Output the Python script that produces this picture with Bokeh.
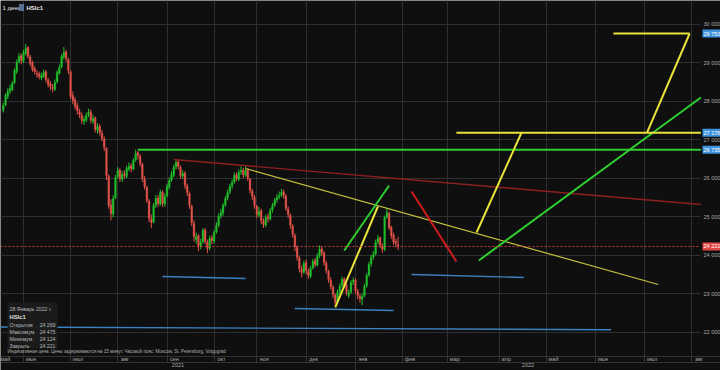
import pandas as pd
from bokeh.plotting import figure
from bokeh.models import (Range1d, LinearAxis, FixedTicker, CustomJSTickFormatter, Grid,
                          Label, BoxAnnotation, ColumnDataSource)
from bokeh.embed import file_html
from bokeh.resources import INLINE

# ---------------- calendar (trading days, future = weekdays) ----------------
hk_holidays = ["2021-05-19", "2021-06-14", "2021-07-01", "2021-09-22",
               "2021-10-01", "2021-10-14", "2021-12-27"]
hist_days = [d.strftime("%Y-%m-%d") for d in pd.bdate_range("2021-05-18", "2022-01-28")
             if d.strftime("%Y-%m-%d") not in hk_holidays]
future_days = [d.strftime("%Y-%m-%d") for d in pd.bdate_range("2022-01-31", "2022-08-31")]
axis_days = ["2021-05-14", "2021-05-17"] + hist_days + future_days
pos = {d: i for i, d in enumerate(axis_days)}

# ---------------- OHLC (HSIc1, daily) ----------------
opens = [27760, 27900, 28120, 28260, 28300, 28480, 28770, 29020, 29180,
         29030, 29240, 29390, 29140, 28990, 28840, 28720, 28700, 28600, 28640,
         28760, 28540, 28450, 28360, 28300, 28500, 28720, 28890, 29140, 29280,
         29080, 28760, 28140, 28030, 27880, 27720, 27630, 27470, 27500, 27640,
         27720, 27470, 27560, 27240, 27350, 27160, 27010, 26770, 26040, 25300,
         25060, 25490, 26040, 26210, 25970, 26110, 26040, 26230, 26320, 26230,
         26470, 26660, 26570, 26360, 25970, 25760, 25400, 24930, 24860, 25300,
         25480, 25320, 25640, 25320, 25540, 25760, 25950, 26070, 26290, 26420,
         26280, 26050, 26130, 25790, 25600, 25270, 24820, 24400, 24500, 24230,
         24340, 24650, 24330, 24180, 24440, 24360, 24600, 24780, 25020, 25090,
         25300, 25480, 25640, 25800, 25900, 26080, 25970, 26160, 26210, 26070,
         26210, 25970, 25660, 25500, 25270, 25030, 25150, 24880, 24780, 24990,
         24930, 25170, 25300, 25430, 25510, 25560, 25640, 25530, 25190, 25030,
         24750, 24510, 24200, 23920, 23630, 23560, 23800, 23580, 23450, 23670,
         23850, 23740, 23980, 24160, 24050, 23790, 23580, 23350, 23160, 22960,
         22780, 23040, 23200, 23380, 23220, 22950, 23040, 23300, 23350, 23060,
         22930, 22850, 22940, 23200, 23480, 23770, 23950, 24030, 24340, 24450,
         24230, 24150, 24990, 25080, 24720, 24520, 24350, 24269]
highs = [27950, 28200, 28330, 28420, 28520, 28850, 29080, 29250, 29230,
         29330, 29480, 29420, 29200, 29050, 28900, 28800, 28760, 28740, 28820,
         28800, 28600, 28520, 28440, 28560, 28800, 28950, 29220, 29400, 29330,
         29120, 28800, 28250, 28100, 27950, 27800, 27700, 27600, 27700, 27800,
         27780, 27650, 27600, 27420, 27400, 27250, 27080, 26800, 26100, 25450,
         25550, 26080, 26280, 26250, 26180, 26200, 26320, 26400, 26380, 26520,
         26735, 26700, 26620, 26400, 26050, 25800, 25450, 25050, 25350, 25560,
         25550, 25700, 25680, 25600, 25850, 26020, 26180, 26350, 26500, 26470,
         26330, 26200, 26180, 25850, 25650, 25300, 24900, 24580, 24550, 24420,
         24700, 24700, 24400, 24500, 24520, 24650, 24850, 25080, 25200, 25350,
         25540, 25700, 25850, 25960, 26140, 26150, 26220, 26300, 26260, 26320,
         26250, 26000, 25720, 25560, 25300, 25250, 25200, 24950, 25050, 25080,
         25220, 25350, 25480, 25580, 25650, 25720, 25700, 25580, 25260, 25080,
         24800, 24560, 24250, 23980, 23720, 23850, 23880, 23650, 23720, 23900,
         23920, 24050, 24250, 24220, 24100, 23850, 23620, 23420, 23220, 23000,
         23100, 23260, 23440, 23420, 23280, 23100, 23350, 23420, 23400, 23120,
         22990, 23000, 23250, 23530, 23820, 24000, 24100, 24400, 24520, 24480,
         24300, 25020, 25200, 25130, 24760, 24580, 24420, 24475]
lows = [27700, 27860, 28050, 28180, 28250, 28440, 28700, 28980, 28950,
        28990, 29180, 29100, 28900, 28760, 28690, 28600, 28560, 28540, 28600,
        28480, 28350, 28280, 28220, 28260, 28460, 28680, 28850, 29080, 29020,
        28700, 28050, 27920, 27780, 27650, 27560, 27400, 27380, 27450, 27580,
        27420, 27400, 27180, 27150, 27100, 26950, 26700, 25950, 25200, 24900,
        24980, 25450, 25980, 25900, 25900, 25980, 26000, 26180, 26150, 26200,
        26420, 26480, 26300, 25900, 25700, 25350, 24850, 24700, 24820, 25220,
        25250, 25280, 25250, 25250, 25500, 25700, 25900, 26020, 26220, 26220,
        25980, 25980, 25720, 25530, 25200, 24750, 24350, 24300, 24100, 24150,
        24300, 24280, 24050, 24120, 24280, 24300, 24550, 24720, 24950, 25020,
        25250, 25420, 25580, 25720, 25850, 25920, 25920, 26080, 26000, 26030,
        25920, 25600, 25430, 25200, 24960, 24980, 24800, 24700, 24720, 24850,
        24900, 25100, 25250, 25360, 25450, 25500, 25460, 25150, 24960, 24680,
        24450, 24100, 23850, 23550, 23420, 23500, 23500, 23380, 23400, 23620,
        23680, 23700, 23920, 23980, 23720, 23520, 23280, 23100, 22880, 22670,
        22720, 22980, 23150, 23150, 22950, 22880, 22990, 23220, 23000, 22850,
        22760, 22700, 22900, 23150, 23430, 23700, 23880, 23990, 24280, 24180,
        24050, 24100, 24940, 24650, 24420, 24260, 24200, 24124]
closes = [27883, 28143, 28247, 28325, 28455, 28792, 29000, 29156, 29052,
          29260, 29363, 29156, 28974, 28818, 28766, 28688, 28636, 28662, 28740,
          28558, 28429, 28377, 28325, 28480, 28740, 28870, 29156, 29260, 29104,
          28792, 28117, 28013, 27857, 27753, 27650, 27494, 27520, 27624, 27701,
          27494, 27546, 27260, 27338, 27182, 27026, 26793, 26065, 25286, 25078,
          25468, 26013, 26195, 25988, 26091, 26065, 26247, 26299, 26247, 26455,
          26637, 26585, 26377, 25988, 25780, 25416, 24949, 24845, 25286, 25468,
          25338, 25624, 25338, 25520, 25780, 25935, 26091, 26273, 26403, 26299,
          26065, 26117, 25806, 25624, 25286, 24845, 24481, 24481, 24247, 24325,
          24637, 24351, 24169, 24429, 24377, 24585, 24767, 25000, 25104, 25286,
          25468, 25624, 25780, 25884, 26065, 25988, 26143, 26195, 26091, 26195,
          25988, 25676, 25520, 25286, 25052, 25130, 24897, 24793, 24975, 24949,
          25156, 25286, 25416, 25494, 25546, 25624, 25546, 25208, 25052, 24767,
          24533, 24221, 23936, 23650, 23546, 23780, 23598, 23468, 23650, 23832,
          23754, 23962, 24143, 24065, 23806, 23598, 23364, 23182, 22975, 22767,
          23027, 23182, 23364, 23234, 23027, 23027, 23286, 23338, 23079, 22949,
          22871, 22923, 23182, 23468, 23754, 23936, 24013, 24325, 24429, 24247,
          24143, 24975, 25100, 24700, 24500, 24330, 24300, 24221]

# ---------------- drawn trend lines (date, price) ----------------
yellow_lines = [
    (["2022-06-13", "2022-07-29"], [29753, 29753]),
    (["2022-07-04", "2022-07-29"], [27176, 29753]),
    (["2022-03-07", "2022-08-05"], [27176, 27176]),
    (["2022-03-18", "2022-04-15"], [24585, 27176]),
    (["2021-12-20", "2022-01-17"], [22637, 25260]),
]
green_lines = [
    (["2021-08-13", "2022-08-05"], [26735, 26735]),
    (["2022-03-21", "2022-08-05"], [23858, 28091]),
    (["2021-12-24", "2022-01-24"], [24117, 25806]),
]
darkred_line = (["2021-09-06", "2022-08-05"], [26480, 25312])
olive_line = (["2021-10-25", "2022-07-11"], [26247, 23234])
red_line = (["2022-02-07", "2022-03-07"], [25650, 23832])
blue_lines = [
    (["2021-08-30", "2021-10-25"], [23442, 23390]),
    (["2021-11-24", "2022-01-26"], [22611, 22559]),
    (["2022-02-07", "2022-04-18"], [23494, 23416]),
    (["2021-05-14", "2022-06-10"], [22130, 22060]),
]
price_tags = [29753, 27176, 26735]
price_ticks = [22000, 23000, 24000, 25000, 26000, 27000, 28000, 29000, 30000]
month_names = ["янв", "фев", "мар", "апр", "май", "июн", "июл", "авг", "сен", "окт", "ноя", "дек"]

# ---------------- layout constants (frame = whole canvas) ----------------
W, H = 720, 370
PX_DAY = 2.243           # pixels per trading day
PX_PRICE = 25.974        # price per pixel
PLOT_R = 700             # right end of the chart area (px)
PLOT_B = 355.5           # bottom end of the chart area (px)
YEAR_ROW = 362           # line between month row and year row (px)
x0 = pos["2021-05-18"] - 1.25
x1 = x0 + W / PX_DAY
y1 = 30000 + 23.5 * PX_PRICE
y0 = y1 - H * PX_PRICE

def px2x(px):
    return x0 + px / PX_DAY

def py2y(py):
    return y1 - py * PX_PRICE

BG = "#0f0f0f"
GRID = "#2f2f2f"
SEP = "#333333"
FONT = "Liberation Sans"
TXT = "#a8a8a8"

p = figure(width=W, height=H, output_backend="svg", toolbar_location=None,
           x_range=Range1d(x0, x1), y_range=Range1d(y0, y1),
           x_axis_location=None, y_axis_location=None,
           min_border_left=0, min_border_right=0, min_border_top=0, min_border_bottom=0,
           background_fill_color=BG, border_fill_color=BG)
p.outline_line_color = None
p.center = []

# month starts (first trading day of each month)
month_start = []
month_lab = []
seen = set()
for d in axis_days:
    ym = d[:7]
    if ym not in seen:
        seen.add(ym)
        if d >= "2021-06-01":
            month_start.append(pos[d])
            month_lab.append(month_names[int(d[5:7]) - 1])
jan22 = pos["2022-01-03"]

p.add_layout(Grid(dimension=0, ticker=FixedTicker(ticks=month_start), grid_line_color=GRID,
                  cross_bounds=(py2y(PLOT_B), y1)))
p.add_layout(Grid(dimension=1, ticker=FixedTicker(ticks=price_ticks), grid_line_color=GRID,
                  cross_bounds=(x0, px2x(PLOT_R))))

# ---------------- candles ----------------
xs = [pos[d] for d in hist_days]
cols = ["#22c02b" if c >= o else "#e3534a" for o, c in zip(opens, closes)]
src = ColumnDataSource(dict(x=xs, h=highs, l=lows,
                            top=[max(o, c) for o, c in zip(opens, closes)],
                            bot=[min(o, c) for o, c in zip(opens, closes)], col=cols))
p.segment(x0="x", y0="l", x1="x", y1="h", line_color="col", line_width=1, source=src)
p.vbar(x="x", width=0.72, top="top", bottom="bot", fill_color="col", line_color="col",
       line_width=0.4, source=src)

# ---------------- trend lines ----------------
def draw(seg, color, width):
    ds, ps = seg
    p.line([pos[d] for d in ds], ps, line_color=color, line_width=width)

for seg in blue_lines:
    draw(seg, "#3c82c0", 1.4)
draw(darkred_line, "#8e1f1f", 1.4)
draw(olive_line, "#c4bf3c", 1.2)
draw(red_line, "#d01c1c", 2)
for seg in green_lines:
    draw(seg, "#2fcf2f", 2)
for seg in yellow_lines:
    draw(seg, "#e9e33c", 2)

p.line([x0, px2x(PLOT_R)], [closes[-1], closes[-1]], line_color="#d23c3c",
       line_dash="2 2", line_width=1)

# ---------------- axes (fixed inside the canvas) ----------------
blank = CustomJSTickFormatter(code="return '';")

fmt_price = CustomJSTickFormatter(code="""
const s = Math.round(tick).toString();
return s.slice(0, s.length - 3) + ' ' + s.slice(s.length - 3);
""")
yax = LinearAxis(ticker=FixedTicker(ticks=price_ticks), formatter=fmt_price,
                 fixed_location=px2x(PLOT_R),
                 axis_line_color=None, major_tick_line_color=None, minor_tick_line_color=None,
                 major_tick_out=0, major_tick_in=0, major_label_standoff=3,
                 major_label_text_font_size="5.5px", major_label_text_color=TXT,
                 major_label_text_font=FONT)
p.add_layout(yax, "right")

# separators of the month row
sep_m = LinearAxis(ticker=FixedTicker(ticks=month_start), formatter=blank,
                   fixed_location=py2y(PLOT_B), axis_line_color=SEP,
                   major_tick_line_color=SEP, major_tick_out=int(YEAR_ROW - PLOT_B), major_tick_in=0,
                   minor_tick_line_color=None, major_label_text_font_size="1px")
p.add_layout(sep_m, "below")
# separator of the year row
sep_y = LinearAxis(ticker=FixedTicker(ticks=[jan22]), formatter=blank,
                   fixed_location=py2y(YEAR_ROW), axis_line_color=SEP,
                   major_tick_line_color=SEP, major_tick_out=int(H - YEAR_ROW), major_tick_in=0,
                   minor_tick_line_color=None, major_label_text_font_size="1px")
p.add_layout(sep_y, "below")

lab_pos = [px2x(5)] + [m + 3.3 for m in month_start]
lab_txt = ["май"] + month_lab
fmt_month = CustomJSTickFormatter(args=dict(pos=lab_pos, labs=lab_txt), code="""
let b = 0;
for (let k = 0; k < pos.length; k++) { if (Math.abs(pos[k] - tick) < Math.abs(pos[b] - tick)) b = k; }
return labs[b];
""")
xax = LinearAxis(ticker=FixedTicker(ticks=lab_pos), formatter=fmt_month,
                 fixed_location=py2y(PLOT_B), axis_line_color=None,
                 major_tick_line_color=None, minor_tick_line_color=None,
                 major_tick_out=0, major_tick_in=0, major_label_standoff=0,
                 major_label_text_font_size="5.5px", major_label_text_color=TXT,
                 major_label_text_font=FONT)
p.add_layout(xax, "below")

year_pos = [(x0 + jan22) / 2, (jan22 + px2x(PLOT_R)) / 2]
fmt_year = CustomJSTickFormatter(args=dict(pos=year_pos, labs=["2021", "2022"]), code="""
return Math.abs(tick - pos[0]) < Math.abs(tick - pos[1]) ? labs[0] : labs[1];
""")
yrax = LinearAxis(ticker=FixedTicker(ticks=year_pos), formatter=fmt_year,
                  fixed_location=py2y(YEAR_ROW), axis_line_color=None,
                  major_tick_line_color=None, minor_tick_line_color=None,
                  major_tick_out=0, major_tick_in=0, major_label_standoff=0,
                  major_label_text_font_size="5.5px", major_label_text_color=TXT,
                  major_label_text_font=FONT)
p.add_layout(yrax, "below")

# ---------------- price tags on the right axis ----------------
def tag(price, bg):
    s = str(int(round(price)))
    p.add_layout(Label(x=px2x(PLOT_R + 2), y=price, text=s[:-3] + " " + s[-3:],
                       text_align="left", text_baseline="middle", text_font=FONT,
                       text_font_size="5.5px", text_color="white",
                       background_fill_color=bg, padding=1))

for pt in price_tags:
    tag(pt, "#3f93dd")
tag(closes[-1], "#e24545")

# ---------------- header and info box ----------------
def txt(px, py, s, size="6.5px", color="#d8d8d8", align="left", style="normal"):
    p.add_layout(Label(x=px2x(px), y=py2y(py), text=s, text_align=align,
                       text_baseline="middle", text_font=FONT, text_font_size=size,
                       text_color=color, text_font_style=style))

txt(2, 7, "1 день", size="6px", color="#e8e8e8")
p.add_layout(BoxAnnotation(left=px2x(18.5), right=px2x(23.5), top=py2y(3.5), bottom=py2y(10.5),
                           fill_color="#5d6f95", fill_alpha=1, line_color=None))
txt(26, 7, "HSIc1", size="6px", color="#e8e8e8", style="bold")

p.add_layout(BoxAnnotation(left=px2x(7), right=px2x(57), top=py2y(302), bottom=py2y(348),
                           fill_color="#1c1c1c", fill_alpha=0.92, line_color=None))

def f(v):
    s = str(int(v))
    return s[:-3] + " " + s[-3:]

txt(9, 308, "28 Январь 2022 г.", size="5.2px", color="#b8b8b8")
txt(9, 316.5, "HSIc1", size="5.8px", color="#e0e0e0", style="bold")
rows = [("Открытие", opens[-1]), ("Максимум", highs[-1]), ("Минимум", lows[-1]), ("Закрыть", closes[-1])]
for k, (name, v) in enumerate(rows):
    yy = 324 + k * 7
    txt(9, yy, name, size="5.2px", color="#b8b8b8")
    txt(55, yy, f(v), size="5.2px", color="#b8b8b8", align="right")

txt(7, 351, "Индикативная цена. Цены задерживаются на 15 минут.    Часовой пояс: Moscow, St. Petersburg, Volgograd",
    size="4.5px", color="#b0b0b0")

open("out.html", "w").write(file_html(p, INLINE))
